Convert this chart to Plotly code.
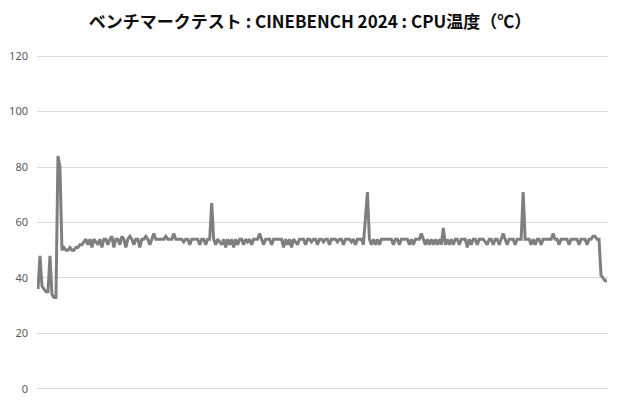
import plotly.graph_objects as go

# CPU temperature samples (deg C)
startup = [36, 48, 37, 36, 35, 35, 48, 34, 33, 33, 84, 80,
           50, 51, 50, 50, 51, 50, 50, 51, 51, 52]
warmup = [52, 53, 54, 52, 54, 51, 54, 53, 52, 54, 51, 54, 54, 52, 54, 55, 51, 54,
          54, 52, 55, 54, 51, 54, 55, 54, 52, 54, 54, 51, 54, 54, 55, 54, 52]
load_1 = [54, 56, 54, 54, 54, 54, 54, 55, 54, 54, 54, 56, 54, 54,
          54, 54, 53, 54, 54, 52, 54, 54, 54, 54, 52, 54, 54, 52]
load_2 = [54, 54, 67, 54, 52, 54, 53, 52, 54, 51, 54, 52, 54, 51,
          54, 52, 54, 54, 52, 54, 53, 54, 52, 54, 54, 54, 56, 54]
load_3 = [52, 54, 54, 54, 52, 54, 54, 54, 54, 54, 51, 54, 52, 54,
          51, 54, 53, 52, 54, 54, 54, 52, 54, 54, 53, 54, 54, 52]
load_4 = [54, 54, 53, 54, 54, 52, 54, 54, 54, 53, 54, 54, 52, 54,
          54, 54, 53, 54, 52, 54, 54, 54, 52, 63, 71, 54, 52, 54]
load_5 = [52, 54, 52, 54, 54, 54, 54, 54, 54, 52, 54, 54, 52, 54,
          54, 54, 54, 52, 54, 52, 54, 54, 54, 56, 54, 52, 54, 52]
load_6 = [54, 52, 54, 52, 54, 52, 58, 52, 54, 52, 54, 52, 54, 54,
          52, 54, 54, 54, 51, 54, 52, 54, 54, 52, 54, 54, 54, 53]
load_7 = [52, 54, 54, 52, 54, 54, 52, 54, 56, 54, 52, 54, 54, 54,
          52, 54, 54, 54, 71, 54, 54, 54, 52, 54, 52, 54, 54, 52]
load_8 = [54, 54, 54, 54, 54, 56, 54, 54, 52, 54, 54, 54, 54, 52,
          54, 54, 54, 54, 52, 54, 54, 54, 52, 54, 54, 55, 55, 54]
cooldown = [54, 41, 40, 39, 39]

temps = (startup + warmup + load_1 + load_2 + load_3 + load_4
         + load_5 + load_6 + load_7 + load_8 + cooldown)
samples = list(range(len(temps)))

y_ticks = [0, 20, 40, 60, 80, 100, 120]
title = "<b>ベンチマークテスト : CINEBENCH 2024 : CPU温度（℃）</b>"

fig = go.Figure(go.Scatter(
    x=samples, y=temps, mode="lines",
    line=dict(color="#7f7f7f", width=3),
    hoverinfo="y",
))

fig.update_layout(
    width=620, height=400,
    margin=dict(l=37, r=12, t=55, b=10),
    paper_bgcolor="white", plot_bgcolor="white",
    font=dict(family="Noto Sans CJK JP, Noto Sans, sans-serif", color="#595959"),
    title=dict(text=title, x=0.5, xanchor="center", y=0.945, yanchor="middle",
               font=dict(size=17, color="#0d0d0d")),
    showlegend=False,
)
fig.update_xaxes(range=[-0.5, len(temps) - 0.5], showgrid=False, zeroline=False,
                 showticklabels=False, showline=False, ticks="", automargin=False)
# a little slack at both ends so the 0 and 120 gridlines get drawn
fig.update_yaxes(range=[-0.4, 120.4], tickvals=y_ticks, gridcolor="#d9d9d9", gridwidth=1,
                 zeroline=False, showline=False, ticklabelstandoff=8, automargin=False,
                 tickfont=dict(size=11, family="Noto Sans, sans-serif", color="#595959"))

# drop the default body margin so the figure fills the window exactly
fig.write_html("out.html", config={"displayModeBar": False},
               post_script="document.body.style.margin='0';")
